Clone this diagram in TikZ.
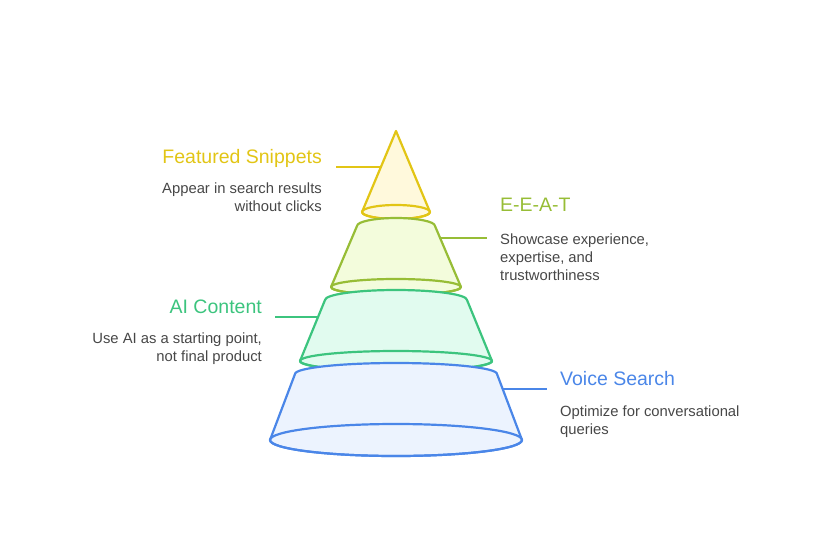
\documentclass[tikz,border=0pt]{standalone}
\usepackage{fontspec}
\setmainfont{Liberation Sans}
\usepackage{tikz}

\definecolor{snipline}{HTML}{E2C515}
\definecolor{snipfill}{HTML}{FFF9DC}
\definecolor{eeatline}{HTML}{97BD36}
\definecolor{eeatfill}{HTML}{F3FCDC}
\definecolor{ailine}{HTML}{3CC47E}
\definecolor{aifill}{HTML}{E1FBEF}
\definecolor{voiceline}{HTML}{4A86E8}
\definecolor{voicefill}{HTML}{ECF3FE}
\definecolor{bodytext}{HTML}{474747}

\tikzset{
  tier/.style={line width=2.2pt, line join=round},
  link/.style={line width=2pt},
  title/.style={inner sep=0pt, font=\fontsize{19.5}{23}\selectfont},
  body/.style={inner sep=0pt, text=bodytext, font=\fontsize{14.8}{18}\selectfont},
}

\begin{document}
\begin{tikzpicture}[x=1pt,y=-1pt]

\useasboundingbox (0,0) rectangle (816,541);

% top cone
\filldraw [tier, draw=snipline, fill=snipfill] (396,131) -- (362,212)
    arc [start angle=180, end angle=360, x radius=34pt, y radius=7pt] -- cycle;
\draw [tier, snipline] (396,212) ellipse [x radius=34pt, y radius=7pt];

% E-E-A-T
\filldraw [tier, draw=eeatline, fill=eeatfill] (357,226)
    arc [start angle=180, end angle=0, x radius=39pt, y radius=8pt] -- (461,287)
    arc [start angle=0, end angle=-180, x radius=65pt, y radius=8pt] -- cycle;
\draw [tier, eeatline] (396,287) ellipse [x radius=65pt, y radius=8pt];

% AI content
\filldraw [tier, draw=ailine, fill=aifill] (325,300)
    arc [start angle=180, end angle=0, x radius=71pt, y radius=10pt] -- (492,361)
    arc [start angle=0, end angle=-180, x radius=96pt, y radius=10pt] -- cycle;
\draw [tier, ailine] (396,361) ellipse [x radius=96pt, y radius=10pt];

% voice search
\filldraw [tier, draw=voiceline, fill=voicefill] (295,374)
    arc [start angle=180, end angle=0, x radius=101pt, y radius=11pt] -- (522,440)
    arc [start angle=0, end angle=-180, x radius=126pt, y radius=16pt] -- cycle;
\draw [tier, voiceline] (396,440) ellipse [x radius=126pt, y radius=16pt];

% labels
\node [title, text=snipline, anchor=base east] (snip-title) at (322,163) {Featured Snippets};
\node [body, anchor=north east, align=right] (snip-text) at (322,182.4) {Appear in search results\\without clicks};

\node [title, text=eeatline, anchor=base west] (eeat-title) at (500,211) {E-E-A-T};
\node [body, anchor=north west, align=left] (eeat-text) at (500,233.4) {Showcase experience,\\expertise, and\\trustworthiness};

\node [title, text=ailine, anchor=base east] (ai-title) at (262,313) {AI Content};
\node [body, anchor=north east, align=right] (ai-text) at (262,332.4) {Use AI as a starting point,\\not final product};

\node [title, text=voiceline, anchor=base west] (voice-title) at (560,385) {Voice Search};
\node [body, anchor=north west, align=left] (voice-text) at (560,405.4) {Optimize for conversational\\queries};

% connectors
\coordinate (snip-a) at (336,167);
\coordinate (snip-b) at (381,167);
\coordinate (eeat-a) at (440,238);
\coordinate (eeat-b) at (487,238);
\coordinate (ai-a) at (275,317);
\coordinate (ai-b) at (319,317);
\coordinate (voice-a) at (502,389);
\coordinate (voice-b) at (547,389);

\draw [link, snipline] (snip-a) -- (snip-b);
\draw [link, eeatline] (eeat-a) -- (eeat-b);
\draw [link, ailine] (ai-a) -- (ai-b);
\draw [link, voiceline] (voice-a) -- (voice-b);

\end{tikzpicture}
\end{document}
